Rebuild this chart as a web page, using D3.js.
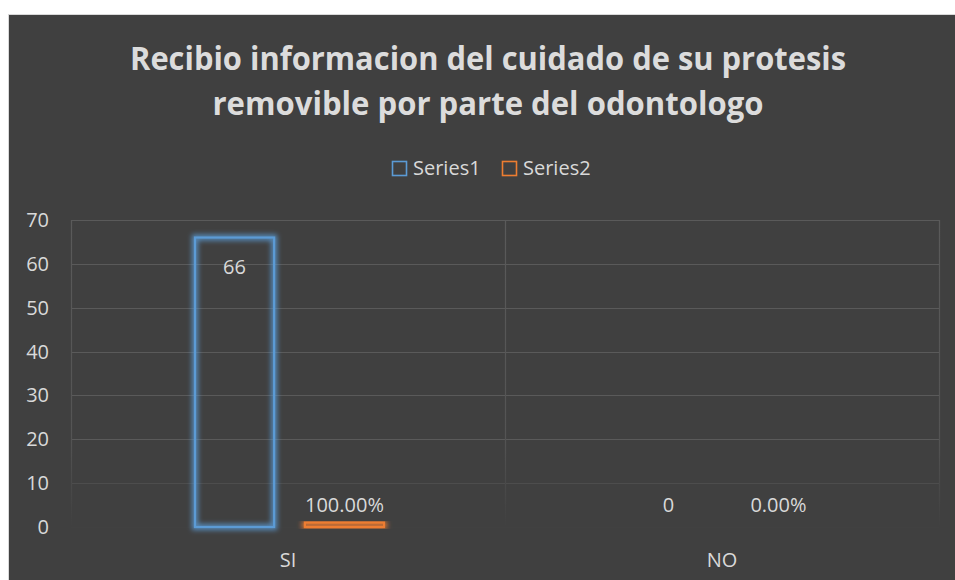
<!DOCTYPE html>
<html>
<head>
<meta charset="utf-8">
<script src="https://cdn.jsdelivr.net/npm/d3@7"></script>
<style>
	html, body { margin: 0; padding: 0; background: #ffffff; overflow: hidden; }
	svg { display: block; }
	text { font-family: "Open Sans", "DejaVu Sans", sans-serif; fill: #d9d9d9; }
</style>
</head>
<body>
<div id="chart"></div>
<script>
// chart values
var categories = ['SI', 'NO'];
var seriesNames = ['Series1', 'Series2'];
var series1 = [66, 0];
var series2 = [1, 0]; //shown as a share, 1 = 100%
var series1Labels = ['66', '0'];
var series2Labels = ['100.00%', '0.00%'];
var yTicks = [0, 10, 20, 30, 40, 50, 60, 70];
var titleLines = ['Recibio informacion del cuidado de su protesis', 'removible por parte del odontologo'];
var titleWidths = [716, 551]; //line widths measured on the picture

var colors = {Series1: '#5b9bd5', Series2: '#ed7d31'};

drawChart();

function drawChart(){
	var width = 955, height = 580;
	var plot = {left: 71, right: 939, top: 220, bottom: 527};
	var small = '20px';

	var svg = d3.select('#chart').append('svg')
		.attr('width', width)
		.attr('height', height);

	var defs = svg.append('defs');
	//soft glow round the bar outlines
	var glow = defs.append('filter').attr('id', 'glow')
		.attr('x', '-30%').attr('y', '-30%').attr('width', '160%').attr('height', '160%');
	glow.append('feMorphology').attr('in', 'SourceGraphic').attr('operator', 'dilate').attr('radius', 1.5).attr('result', 'thick');
	glow.append('feGaussianBlur').attr('in', 'thick').attr('stdDeviation', 2.5).attr('result', 'blur');
	glow.append('feComponentTransfer').attr('in', 'blur').attr('result', 'soft')
		.append('feFuncA').attr('type', 'linear').attr('slope', 0.8);
	var merge = glow.append('feMerge');
	merge.append('feMergeNode').attr('in', 'soft');
	merge.append('feMergeNode').attr('in', 'SourceGraphic');

	//vertical gridlines fade out towards the bottom
	var fade = defs.append('linearGradient').attr('id', 'gridFade')
		.attr('gradientUnits', 'userSpaceOnUse')
		.attr('x1', 0).attr('y1', plot.top).attr('x2', 0).attr('y2', plot.bottom);
	fade.append('stop').attr('offset', '0%').attr('stop-color', '#5a5a5a');
	fade.append('stop').attr('offset', '70%').attr('stop-color', '#545454');
	fade.append('stop').attr('offset', '100%').attr('stop-color', '#404040');

	//chart box
	svg.append('rect')
		.attr('x', 8.5).attr('y', 14.5)
		.attr('width', width).attr('height', height)
		.attr('fill', '#404040')
		.attr('stroke', '#d9d9d9')
		.attr('stroke-width', 1);

	var x0 = d3.scaleBand().domain(categories).range([plot.left, plot.right]);
	var x1 = d3.scaleBand().domain(seriesNames).range([124, 313]).paddingInner(0.28);
	var y = d3.scaleLinear().domain([0, 70]).range([plot.bottom, plot.top]);

	//horizontal gridlines, the low ones nearly vanish
	var gridColor = function(t){
		var k = t >= 20 ? 1 : (t == 10 ? 0.5 : 0.05);
		return d3.interpolateRgb('#404040', '#5a5a5a')(k);
	};
	svg.append('g').selectAll('line').data(yTicks).join('line')
		.attr('x1', plot.left).attr('x2', plot.right)
		.attr('y1', function(d){ return Math.round(y(d)) + 0.5; })
		.attr('y2', function(d){ return Math.round(y(d)) + 0.5; })
		.attr('stroke', gridColor)
		.attr('stroke-width', 1.2);

	//vertical category separators
	var seps = [plot.left, x0('NO'), plot.right];
	svg.append('g').selectAll('line').data(seps).join('line')
		.attr('x1', function(d){ return Math.round(d) + 0.5; })
		.attr('x2', function(d){ return Math.round(d) + 0.5; })
		.attr('y1', plot.top).attr('y2', plot.bottom)
		.attr('stroke', 'url(#gridFade)')
		.attr('stroke-width', 1.2);

	//y tick labels
	svg.append('g').selectAll('text').data(yTicks).join('text')
		.attr('x', 49)
		.attr('y', function(d){ return y(d) + 7; })
		.attr('text-anchor', 'end')
		.style('font-size', small)
		.text(function(d){ return d; });

	//bars
	var rows = [];
	categories.forEach(function(c, i){
		rows.push({cat: c, name: 'Series1', value: series1[i], label: series1Labels[i]});
		rows.push({cat: c, name: 'Series2', value: series2[i], label: series2Labels[i]});
	});

	svg.append('g').selectAll('rect').data(rows.filter(function(d){ return d.value > 0; })).join('rect')
		.attr('x', function(d){ return x0(d.cat) + x1(d.name); })
		.attr('y', function(d){ return y(d.value); })
		.attr('width', x1.bandwidth())
		.attr('height', function(d){ return y(0) - y(d.value); })
		.attr('fill', 'none')
		.attr('stroke', function(d){ return colors[d.name]; })
		.attr('stroke-width', 2.2)
		.attr('filter', 'url(#glow)');

	//data labels: inside end for tall bars, above for the rest
	svg.append('g').selectAll('text').data(rows).join('text')
		.attr('x', function(d){ return x0(d.cat) + x1(d.name) + x1.bandwidth() / 2; })
		.attr('y', function(d){
			if(y(0) - y(d.value) > 40) return y(d.value) + 36;
			return 512;
		})
		.attr('text-anchor', 'middle')
		.style('font-size', small)
		.text(function(d){ return d.label; });

	//category labels
	svg.append('g').selectAll('text').data(categories).join('text')
		.attr('x', function(d){ return x0(d) + x0.bandwidth() / 2; })
		.attr('y', 567)
		.attr('text-anchor', 'middle')
		.style('font-size', small)
		.text(function(d){ return d; });

	//title: taller glyphs squeezed to the measured widths (narrow face look)
	svg.append('g').selectAll('text').data(titleLines).join('text')
		.attr('x', 488)
		.attr('y', function(d, i){ return 70 + i * 45; })
		.attr('text-anchor', 'middle')
		.attr('textLength', function(d, i){ return titleWidths[i]; })
		.attr('lengthAdjust', 'spacingAndGlyphs')
		.style('font-size', '32px')
		.style('font-weight', 'bold')
		.style('fill', '#dcdcdc')
		.text(function(d){ return d; });

	//legend
	var legend = svg.append('g');
	var legendX = [392, 502];
	seriesNames.forEach(function(name, i){
		legend.append('rect')
			.attr('x', legendX[i] + 0.5).attr('y', 161.5)
			.attr('width', 14).attr('height', 14)
			.attr('fill', 'none')
			.attr('stroke', colors[name])
			.attr('stroke-width', 1.6);
		legend.append('text')
			.attr('x', legendX[i] + 21)
			.attr('y', 175)
			.style('font-size', small)
			.text(name);
	});
}
</script>
</body>
</html>
